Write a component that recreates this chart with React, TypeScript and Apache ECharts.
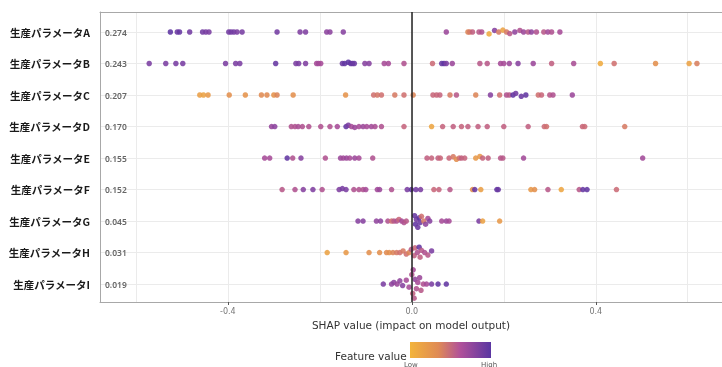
import React, { useEffect, useRef } from "react";
import * as echarts from "echarts";

// Feature names, top to bottom
const features = [
  "生産パラメータA",
  "生産パラメータB",
  "生産パラメータC",
  "生産パラメータD",
  "生産パラメータE",
  "生産パラメータF",
  "生産パラメータG",
  "生産パラメータH",
  "生産パラメータI",
];
const importance = ["0.274", "0.243", "0.207", "0.170", "0.155", "0.152", "0.045", "0.031", "0.019"];
const xTickValues = [-0.4, 0, 0.4];
const xGridValues = [-0.6, -0.4, -0.2, 0, 0.2, 0.4, 0.6];

// Each point: [SHAP value, feature value (0 low .. 1 high), vertical swarm offset]
const rowA = [
  [-0.525, 0.98, 0], [-0.51, 0.9, 0], [-0.505, 0.92, 0], [-0.483, 0.85, 0], [-0.455, 0.85, 0],
  [-0.448, 0.82, 0], [-0.441, 0.8, 0], [-0.398, 0.85, 0], [-0.393, 0.85, 0], [-0.387, 0.85, 0],
  [-0.38, 0.8, 0], [-0.369, 0.82, 0], [-0.293, 0.85, 0], [-0.243, 0.78, 0], [-0.231, 0.78, 0],
  [-0.185, 0.72, 0], [-0.178, 0.72, 0], [-0.149, 0.75, 0],
  [0.075, 0.65, 0], [0.122, 0.25, 0], [0.126, 0.3, 0], [0.132, 0.45, 0], [0.146, 0.5, 0],
  [0.152, 0.55, 0], [0.168, 0.05, -0.06], [0.18, 0.75, 0.05], [0.189, 0.3, 0], [0.198, 0.1, 0.06],
  [0.206, 0.3, 0], [0.213, 0.5, -0.05], [0.224, 0.7, 0], [0.235, 0.55, 0.05], [0.243, 0.65, 0],
  [0.253, 0.5, 0], [0.26, 0.7, 0], [0.271, 0.55, 0], [0.287, 0.5, 0], [0.296, 0.62, 0],
  [0.304, 0.55, 0], [0.322, 0.6, 0],
];
const rowB = [
  [-0.571, 0.8, 0], [-0.535, 0.8, 0], [-0.513, 0.82, 0], [-0.498, 0.82, 0], [-0.405, 0.8, 0],
  [-0.383, 0.8, 0], [-0.374, 0.8, 0], [-0.296, 0.92, 0], [-0.252, 0.8, 0], [-0.246, 0.8, 0],
  [-0.231, 0.78, 0], [-0.207, 0.6, 0], [-0.203, 0.62, 0], [-0.198, 0.6, 0], [-0.151, 0.9, 0],
  [-0.146, 0.95, 0], [-0.138, 0.98, 0.04], [-0.133, 0.95, 0], [-0.129, 0.92, 0], [-0.125, 0.9, 0],
  [-0.102, 0.75, 0], [-0.093, 0.75, 0], [-0.06, 0.6, 0], [-0.051, 0.6, 0], [-0.017, 0.55, 0],
  [0.045, 0.38, 0], [0.065, 0.92, 0], [0.07, 0.98, 0], [0.075, 0.8, 0], [0.088, 0.65, 0],
  [0.148, 0.5, 0], [0.164, 0.5, 0], [0.193, 0.6, 0], [0.2, 0.6, 0], [0.212, 0.65, 0],
  [0.231, 0.75, 0], [0.264, 0.65, 0], [0.304, 0.45, 0], [0.352, 0.58, 0], [0.41, 0.05, 0],
  [0.44, 0.35, 0], [0.53, 0.2, 0], [0.603, 0.1, 0], [0.62, 0.28, 0],
];
const rowC = [
  [-0.461, 0.12, 0], [-0.453, 0.1, 0], [-0.443, 0.15, 0], [-0.397, 0.2, 0], [-0.362, 0.18, 0],
  [-0.327, 0.22, 0], [-0.315, 0.22, 0], [-0.3, 0.18, 0], [-0.293, 0.25, 0], [-0.258, 0.2, 0],
  [-0.144, 0.18, 0], [-0.083, 0.35, 0], [-0.075, 0.32, 0], [-0.066, 0.35, 0], [-0.037, 0.3, 0],
  [-0.017, 0.35, 0], [0.003, 0.25, 0], [0.046, 0.4, 0], [0.054, 0.4, 0], [0.061, 0.42, 0],
  [0.083, 0.3, 0], [0.097, 0.5, 0], [0.139, 0.25, 0], [0.171, 0.75, 0], [0.191, 0.35, 0],
  [0.206, 0.55, 0], [0.212, 0.5, 0], [0.22, 0.95, 0], [0.226, 0.85, 0.05], [0.238, 0.9, -0.04],
  [0.248, 0.95, 0], [0.275, 0.35, 0], [0.282, 0.4, 0], [0.3, 0.5, 0], [0.307, 0.55, 0],
  [0.349, 0.65, 0],
];
const rowD = [
  [-0.305, 0.68, 0], [-0.298, 0.72, 0], [-0.262, 0.55, 0], [-0.254, 0.55, 0], [-0.247, 0.58, 0],
  [-0.238, 0.55, 0], [-0.224, 0.55, 0], [-0.198, 0.55, 0], [-0.178, 0.55, 0], [-0.162, 0.6, 0],
  [-0.143, 0.95, 0], [-0.138, 0.8, 0.04], [-0.131, 0.6, 0], [-0.124, 0.65, -0.03], [-0.115, 0.6, 0],
  [-0.106, 0.65, 0], [-0.098, 0.6, 0], [-0.088, 0.62, 0], [-0.08, 0.58, 0], [-0.066, 0.55, 0],
  [-0.017, 0.42, 0], [0.043, 0.08, 0], [0.067, 0.42, 0], [0.09, 0.45, 0], [0.108, 0.42, 0],
  [0.122, 0.45, 0], [0.144, 0.45, 0], [0.164, 0.45, 0], [0.2, 0.45, 0], [0.253, 0.45, 0],
  [0.288, 0.38, 0], [0.293, 0.35, 0], [0.371, 0.4, 0], [0.376, 0.38, 0], [0.463, 0.3, 0],
];
const rowE = [
  [-0.32, 0.6, 0], [-0.309, 0.6, 0], [-0.271, 0.95, 0], [-0.259, 0.55, 0], [-0.241, 0.75, 0],
  [-0.188, 0.55, 0], [-0.155, 0.65, 0], [-0.149, 0.62, 0], [-0.142, 0.65, 0], [-0.135, 0.6, 0],
  [-0.124, 0.65, 0], [-0.115, 0.6, 0], [-0.085, 0.55, 0], [0.033, 0.45, 0], [0.043, 0.42, 0],
  [0.057, 0.45, 0], [0.062, 0.4, 0], [0.081, 0.4, 0], [0.09, 0.3, 0.04], [0.097, 0.2, -0.04],
  [0.103, 0.35, 0], [0.108, 0.45, 0], [0.115, 0.42, 0], [0.139, 0.15, 0], [0.148, 0.15, 0.05],
  [0.154, 0.42, 0], [0.166, 0.45, 0], [0.193, 0.5, 0], [0.198, 0.5, 0], [0.243, 0.62, 0],
  [0.502, 0.62, 0],
];
const rowF = [
  [-0.282, 0.5, 0], [-0.254, 0.55, 0], [-0.236, 0.75, 0], [-0.215, 0.78, 0], [-0.195, 0.55, 0],
  [-0.158, 0.78, 0], [-0.151, 0.82, 0.03], [-0.143, 0.8, 0], [-0.126, 0.55, 0], [-0.115, 0.55, 0],
  [-0.106, 0.55, 0], [-0.1, 0.6, 0], [-0.075, 0.62, 0], [-0.07, 0.65, 0], [-0.044, 0.55, 0],
  [-0.01, 0.8, 0], [-0.001, 0.95, 0], [0.009, 0.85, 0], [0.019, 0.8, 0], [0.048, 0.4, 0],
  [0.059, 0.42, 0], [0.083, 0.5, 0], [0.132, 0.2, 0], [0.137, 0.92, 0], [0.15, 0.12, 0],
  [0.185, 0.95, 0], [0.188, 0.9, 0], [0.259, 0.15, 0], [0.267, 0.2, 0], [0.296, 0.5, 0],
  [0.325, 0.08, 0], [0.364, 0.5, 0], [0.372, 0.92, 0], [0.381, 0.95, 0], [0.445, 0.38, 0],
];
const rowG = [
  [-0.117, 0.75, 0], [-0.106, 0.75, 0], [-0.077, 0.7, 0], [-0.068, 0.72, 0], [-0.052, 0.55, 0],
  [-0.044, 0.35, 0], [-0.039, 0.5, 0], [-0.033, 0.55, 0], [-0.028, 0.4, 0.05], [-0.022, 0.6, 0],
  [-0.017, 0.55, -0.05], [-0.012, 0.5, 0], [0.006, 0.92, 0.17], [0.008, 0.95, -0.1], [0.01, 0.85, 0.05],
  [0.013, 0.9, -0.2], [0.016, 0.98, 0.1], [0.018, 0.9, -0.05], [0.021, 0.35, 0.15], [0.026, 0.3, 0],
  [0.03, 0.7, -0.1], [0.035, 0.6, 0.08], [0.039, 0.75, 0], [0.065, 0.6, 0], [0.075, 0.65, 0],
  [0.081, 0.6, 0], [0.146, 0.8, 0], [0.154, 0.1, 0], [0.191, 0.15, 0],
];
const rowH = [
  [-0.184, 0.1, 0], [-0.143, 0.15, 0], [-0.093, 0.2, 0], [-0.07, 0.2, 0], [-0.055, 0.22, 0],
  [-0.049, 0.2, 0], [-0.041, 0.25, 0], [-0.033, 0.3, 0], [-0.026, 0.35, 0], [-0.019, 0.3, 0.05],
  [-0.012, 0.35, -0.05], [-0.006, 0.25, 0], [-0.001, 0.5, 0.1], [0.005, 0.45, -0.1], [0.007, 0.4, 0.15],
  [0.012, 0.55, 0], [0.016, 0.95, 0.17], [0.018, 0.45, -0.15], [0.021, 0.5, 0.07], [0.028, 0.55, 0],
  [0.035, 0.5, -0.08], [0.043, 0.8, 0.05],
];
const rowI = [
  [-0.062, 0.8, 0], [-0.044, 0.7, 0], [-0.039, 0.72, 0.05], [-0.032, 0.65, 0], [-0.026, 0.7, 0.1],
  [-0.02, 0.75, -0.05], [-0.012, 0.6, 0.12], [-0.006, 0.6, -0.1], [0.0, 0.55, 0.3], [0.002, 0.45, -0.3],
  [0.003, 0.6, 0.45], [0.005, 0.5, -0.45], [0.007, 0.7, 0.15], [0.01, 0.55, -0.15], [0.013, 0.6, 0.05],
  [0.017, 0.65, 0.2], [0.02, 0.5, -0.2], [0.025, 0.55, 0], [0.032, 0.6, 0], [0.043, 0.8, 0],
  [0.057, 0.95, 0], [0.075, 0.95, 0],
];
const rows = [rowA, rowB, rowC, rowD, rowE, rowF, rowG, rowH, rowI];

const palette = ["#f3b43b", "#e38f4d", "#c8677a", "#a64b97", "#7b3fa2", "#5a34a2"];

export default function App() {
  const ref = useRef<HTMLDivElement>(null);
  useEffect(() => {
    if (!ref.current) return;
    const chart = echarts.init(ref.current, null, { renderer: "svg" });
    const n = features.length;
    const data: number[][] = [];
    rows.forEach((row, r) => {
      const yi = n - 1 - r;
      row.forEach(([v, f, dy]) => data.push([v, yi + dy, f]));
    });
    const idxOf = (v: number) => {
      const i = Math.round(v);
      if (Math.abs(v - i) > 1e-6 || i < 0 || i >= n) return -1;
      return n - 1 - i;
    };
    const yMin = -0.571;
    const yMax = 8.635;
    const xMin = -0.678;
    const xMax = 0.6745;
    chart.setOption({
      animation: false,
      grid: { left: 100, top: 12, right: 0, bottom: 65 },
      visualMap: {
        show: false,
        type: "continuous",
        dimension: 2,
        seriesIndex: 0,
        min: 0,
        max: 1,
        inRange: { color: palette },
      },
      xAxis: [
        {
          type: "value",
          min: xMin,
          max: xMax,
          axisLine: { show: true, onZero: false, lineStyle: { color: "#a8a8a8" } },
          axisTick: { show: true, length: 3, customValues: xTickValues, lineStyle: { color: "#555" } },
          axisLabel: {
            customValues: xTickValues,
            fontSize: 8,
            color: "#777",
            margin: 5,
            fontFamily: "DejaVu Sans",
            formatter: (v: number) => v.toFixed(1),
          },
          splitLine: { show: false },
          name: "SHAP value (impact on model output)",
          nameLocation: "middle",
          nameGap: 10,
          nameTextStyle: { fontSize: 10.5, color: "#333", fontFamily: "DejaVu Sans" },
        },
        {
          type: "value",
          position: "top",
          min: xMin,
          max: xMax,
          axisLine: { show: true, onZero: false, lineStyle: { color: "#a8a8a8" } },
          axisTick: { show: false, customValues: xGridValues },
          axisLabel: { show: false },
          splitLine: { show: true, lineStyle: { color: "#ebebeb", width: 1 } },
        },
      ],
      yAxis: [
        {
          type: "value",
          min: yMin,
          max: yMax,
          minInterval: 1,
          maxInterval: 1,
          axisLine: { show: true, onZero: false, lineStyle: { color: "#a8a8a8" } },
          axisTick: { show: false },
          splitLine: { show: true, lineStyle: { color: "#ebebeb", width: 1 } },
          axisLabel: {
            showMinLabel: false,
            showMaxLabel: false,
            margin: 10,
            fontSize: 10.5,
            fontWeight: "bold",
            color: "#1a1a1a",
            fontFamily: "Noto Sans CJK JP",
            formatter: (v: number) => {
              const i = idxOf(v);
              return i < 0 ? "" : features[i];
            },
          },
        },
        {
          type: "value",
          position: "left",
          min: yMin,
          max: yMax,
          minInterval: 1,
          maxInterval: 1,
          axisLine: { show: false, onZero: false },
          axisTick: { show: false },
          splitLine: { show: false },
          axisLabel: {
            inside: true,
            showMinLabel: false,
            showMaxLabel: false,
            margin: 5,
            fontSize: 8.5,
            fontWeight: 600,
            color: "#666",
            fontFamily: "Noto Sans",
            formatter: (v: number) => {
              const i = idxOf(v);
              return i < 0 ? "" : importance[i];
            },
          },
        },
      ],
      series: [
        {
          type: "scatter",
          xAxisIndex: 0,
          yAxisIndex: 0,
          data,
          symbolSize: 5.5,
          itemStyle: { opacity: 0.88 },
          markLine: {
            silent: true,
            symbol: ["none", "none"],
            label: { show: false },
            lineStyle: { color: "#222", width: 1.5, type: "solid" },
            data: [{ xAxis: 0 }],
          },
        },
      ],
      graphic: [
        {
          type: "text",
          left: 335,
          top: 350,
          style: {
            text: "Feature value",
            fontSize: 10.5,
            fill: "#333",
            fontFamily: "DejaVu Sans",
          },
        },
        {
          type: "rect",
          shape: { x: 410, y: 342, width: 81, height: 16 },
          style: {
            fill: new echarts.graphic.LinearGradient(0, 0, 1, 0, [
              { offset: 0, color: "#f3b43b" },
              { offset: 0.35, color: "#df8a55" },
              { offset: 0.62, color: "#b0519a" },
              { offset: 1, color: "#5a36a2" },
            ]),
          },
        },
        {
          type: "text",
          left: 404,
          top: 361,
          style: { text: "Low", fontSize: 7, fill: "#555", fontFamily: "DejaVu Sans" },
        },
        {
          type: "text",
          left: 481,
          top: 361,
          style: { text: "High", fontSize: 7, fill: "#555", fontFamily: "DejaVu Sans" },
        },
      ],
    });
    return () => chart.dispose();
  }, []);
  return (
    <div
      ref={ref}
      style={{ position: "fixed", left: 0, top: 0, width: 722, height: 367 }}
    />
  );
}
